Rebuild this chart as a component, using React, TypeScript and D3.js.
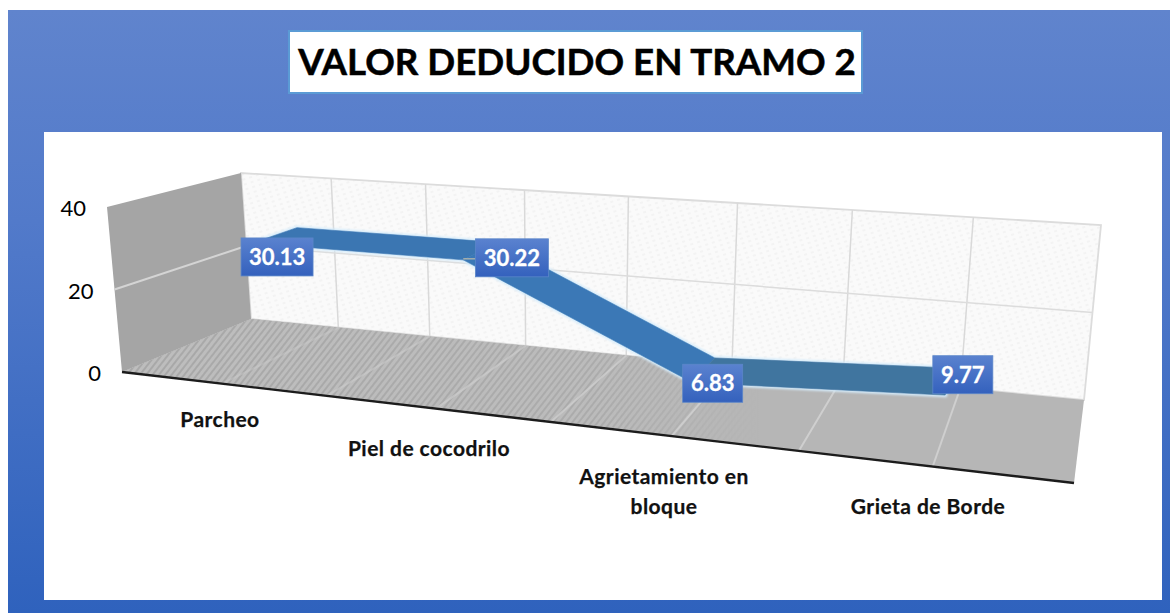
import React from "react";
import * as d3 from "d3";

const titleText = "VALOR DEDUCIDO EN TRAMO 2";
const categories = ["Parcheo", "Piel de cocodrilo", "Agrietamiento en bloque", "Grieta de Borde"];
const categoryLines = [["Parcheo"], ["Piel de cocodrilo"], ["Agrietamiento en", "bloque"], ["Grieta de Borde"]];
const values = [30.13, 30.22, 6.83, 9.77];
const valueTicks = [0, 20, 40];
const valueLabels = ["30.13", "30.22", "6.83", "9.77"];

type P = [number, number];
// screen corners of the 3D box: s across, v up, w toward the viewer
const backBottomLeft: P = [251, 319];
const backBottomRight: P = [1084, 400];
const backTopLeft: P = [241, 173];
const backTopRight: P = [1101, 225];
const frontBottomLeft: P = [122, 372];
const frontBottomRight: P = [1074, 483];
const frontTopLeft: P = [107, 207];
const frontTopRight: P = [1093, 284];
const perspective = 1.22;
const ribbonBack = 0.3;
const ribbonFront = 0.67;

const yScale = d3.scaleLinear().domain([0, 40]).range([0, 1]);
const xBand = d3.scaleBand<string>().domain(categories).range([0, 1]);
const warp = (u: number) => u / (u + perspective * (1 - u));
const mix = (a: P, b: P, t: number): P => [a[0] + (b[0] - a[0]) * t, a[1] + (b[1] - a[1]) * t];

function project(u: number, v: number, w: number): P {
  const s = warp(u);
  const back = mix(mix(backBottomLeft, backBottomRight, s), mix(backTopLeft, backTopRight, s), v);
  const front = mix(mix(frontBottomLeft, frontBottomRight, s), mix(frontTopLeft, frontTopRight, s), v);
  return mix(back, front, w);
}

const poly = d3.line<P>().x((d) => d[0]).y((d) => d[1]);
const closed = (pts: P[]) => poly(pts) + "Z";
const catU = (c: string) => (xBand(c) as number) + xBand.bandwidth() / 2;

const gridU = d3.range(0, 9).map((i) => i / 8);
const floorLineOpacity = d3.scaleLinear().domain([0.1, 0.7]).range([0.35, 1]).clamp(true);
const ribbonColors = ["#3b76b2", "#3a78b6", "#41749f"];
const ribbonEdge = "#d6ecfb";
const labelOffsets: P[] = [[4, 21], [33, 6], [10, 12], [13, -8]];
const labelWidths = [72, 73, 60, 60];
const labelHeight = 38;
const categoryPos: P[] = [[220, 427], [429, 456], [664, 484], [928, 514]];

export default function App() {
  const back = ribbonBackPts();
  const front = ribbonFrontPts();
  const ribbonAll = closed([...back, ...[...front].reverse()]);
  return (
    <svg width={1170} height={613} style={{ position: "fixed", left: 0, top: 0, fontFamily: "Lato, 'Open Sans', sans-serif" }}>
      <defs>
        <linearGradient id="bg" x1="0" y1="0" x2="0" y2="1">
          <stop offset="0" stopColor="#6084cd" />
          <stop offset="0.35" stopColor="#527aca" />
          <stop offset="1" stopColor="#2f62bd" />
        </linearGradient>
        <linearGradient id="lab" x1="0" y1="0" x2="0" y2="1">
          <stop offset="0" stopColor="#5a82cf" />
          <stop offset="1" stopColor="#3461bd" />
        </linearGradient>
        <pattern id="wallHatch" width="7" height="5" patternUnits="userSpaceOnUse" patternTransform="rotate(-18)">
          <rect width="7" height="5" fill="#fafafa" />
          <rect width="3" height="2" fill="#f3f3f3" />
        </pattern>
        <pattern id="floorHatch" width="5" height="5" patternUnits="userSpaceOnUse" patternTransform="rotate(38)">
          <rect width="5" height="5" fill="#bdbdbd" />
          <rect width="2" height="5" fill="#a8a8a8" />
        </pattern>
        <linearGradient id="fade" x1="122" x2="760" y1="0" y2="0" gradientUnits="userSpaceOnUse">
          <stop offset="0" stopColor="#fff" stopOpacity="1" />
          <stop offset="0.75" stopColor="#fff" stopOpacity="0.75" />
          <stop offset="1" stopColor="#fff" stopOpacity="0" />
        </linearGradient>
        <mask id="floorMask" maskUnits="userSpaceOnUse" x="100" y="300" width="1000" height="200">
          <rect x="100" y="300" width="1000" height="200" fill="url(#fade)" />
        </mask>
        <filter id="soft"><feGaussianBlur stdDeviation="1.2" /></filter>
        <filter id="tiny"><feGaussianBlur stdDeviation="0.5" /></filter>
      </defs>

      <rect x={8} y={10} width={1162} height={603} fill="url(#bg)" />
      <rect x={44} y={132} width={1118} height={468} fill="#fff" />

      <rect x={289} y={31} width={573} height={62} fill="#fff" stroke="#5b9bd5" strokeWidth={2} />
      <text x={577} y={75} textAnchor="middle" fontWeight={700} fontSize={36.7} fill="#000" stroke="#000" strokeWidth={0.5}>{titleText}</text>

      <g filter="url(#tiny)">
        {/* back wall */}
        <path d={closed([project(0, 0, 0), project(1, 0, 0), project(1, 1, 0), project(0, 1, 0)])} fill="url(#wallHatch)" stroke="#dcdcdc" strokeWidth={1.8} />
        {gridU.slice(1, -1).map((u) => {
          const a = project(u, 0, 0), b = project(u, 1, 0);
          return <line key={u} x1={a[0]} y1={a[1]} x2={b[0]} y2={b[1]} stroke="#d9d9d9" strokeWidth={1.5} />;
        })}
        {valueTicks.slice(1, -1).map((t) => {
          const a = project(0, yScale(t), 0), b = project(1, yScale(t), 0);
          return <line key={t} x1={a[0]} y1={a[1]} x2={b[0]} y2={b[1]} stroke="#dcdcdc" strokeWidth={1.5} />;
        })}

        {/* floor */}
        <path d={closed([project(0, 0, 0), project(1, 0, 0), project(1, 0, 1), project(0, 0, 1)])} fill="#b6b6b6" />
        <path d={closed([project(0, 0, 0), project(1, 0, 0), project(1, 0, 1), project(0, 0, 1)])} fill="url(#floorHatch)" mask="url(#floorMask)" />
        {gridU.slice(1, -1).map((u) => {
          const a = project(u, 0, 0), b = project(u, 0, 1);
          return <line key={u} x1={a[0]} y1={a[1]} x2={b[0]} y2={b[1]} stroke="#cfcfcf" strokeWidth={2} opacity={floorLineOpacity(u)} />;
        })}

        {/* left wall */}
        <path d={closed([project(0, 0, 0), project(0, 1, 0), project(0, 1, 1), project(0, 0, 1)])} fill="#a5a5a5" />
        {valueTicks.slice(1, -1).map((t) => {
          const a = project(0, yScale(t), 0), b = project(0, yScale(t), 1);
          return <line key={t} x1={a[0]} y1={a[1]} x2={b[0]} y2={b[1]} stroke="#d4d4d4" strokeWidth={2} />;
        })}

        {/* front edge */}
        {(() => {
          const a = project(0, 0, 1), b = project(1, 0, 1);
          return <line x1={a[0]} y1={a[1]} x2={b[0]} y2={b[1]} stroke="#1c1c1c" strokeWidth={2.4} />;
        })()}

        {/* ribbon */}
        <path d={ribbonAll} fill="none" stroke={ribbonEdge} strokeWidth={4} filter="url(#soft)" />
        {back.slice(0, -1).map((p, i) => (
          <path key={i} d={closed([p, back[i + 1], front[i + 1], front[i]])} fill={ribbonColors[i]} stroke={ribbonColors[i]} strokeWidth={0.6} />
        ))}
      </g>

      {/* leader line */}
      <line x1={front[1][0]} y1={front[1][1] - 1} x2={xLabel(1)} y2={front[1][1] - 1} stroke="#d8c9a8" strokeWidth={1} />

      {/* value labels */}
      {values.map((v, i) => {
        const c = project(catU(categories[i]), yScale(v), 0.5);
        const cx = c[0] + labelOffsets[i][0];
        const cy = c[1] + labelOffsets[i][1];
        return (
          <g key={i}>
            <rect x={cx - labelWidths[i] / 2} y={cy - labelHeight / 2} width={labelWidths[i]} height={labelHeight} fill="url(#lab)" stroke="#5b86c9" strokeWidth={0.8} />
            <text x={cx} y={cy + 8} textAnchor="middle" fontWeight={700} fontSize={22} fill="#fff" stroke="#fff" strokeWidth={0.3}>{valueLabels[i]}</text>
          </g>
        );
      })}

      {/* value axis */}
      {valueTicks.map((t) => {
        const p = project(0, yScale(t), 1);
        return <text key={t} x={p[0] - 21} y={p[1] + 9} textAnchor="end" fontSize={22} fill="#000">{t}</text>;
      })}

      {/* category labels */}
      {categoryLines.map((lines, i) =>
        lines.map((ln, j) => (
          <text key={i + "-" + j} x={categoryPos[i][0]} y={categoryPos[i][1] + j * 30} textAnchor="middle" fontWeight={700} fontSize={21} letterSpacing={0.45} fill="#111" stroke="#111" strokeWidth={0.25}>{ln}</text>
        ))
      )}
    </svg>
  );
}

function ribbonBackPts(): P[] {
  return values.map((v, i) => project(catU(categories[i]), yScale(v), ribbonBack));
}
function ribbonFrontPts(): P[] {
  return values.map((v, i) => project(catU(categories[i]), yScale(v), ribbonFront));
}
function xLabel(i: number): number {
  const c = project(catU(categories[i]), yScale(values[i]), 0.5);
  return c[0] + labelOffsets[i][0] - labelWidths[i] / 2;
}
